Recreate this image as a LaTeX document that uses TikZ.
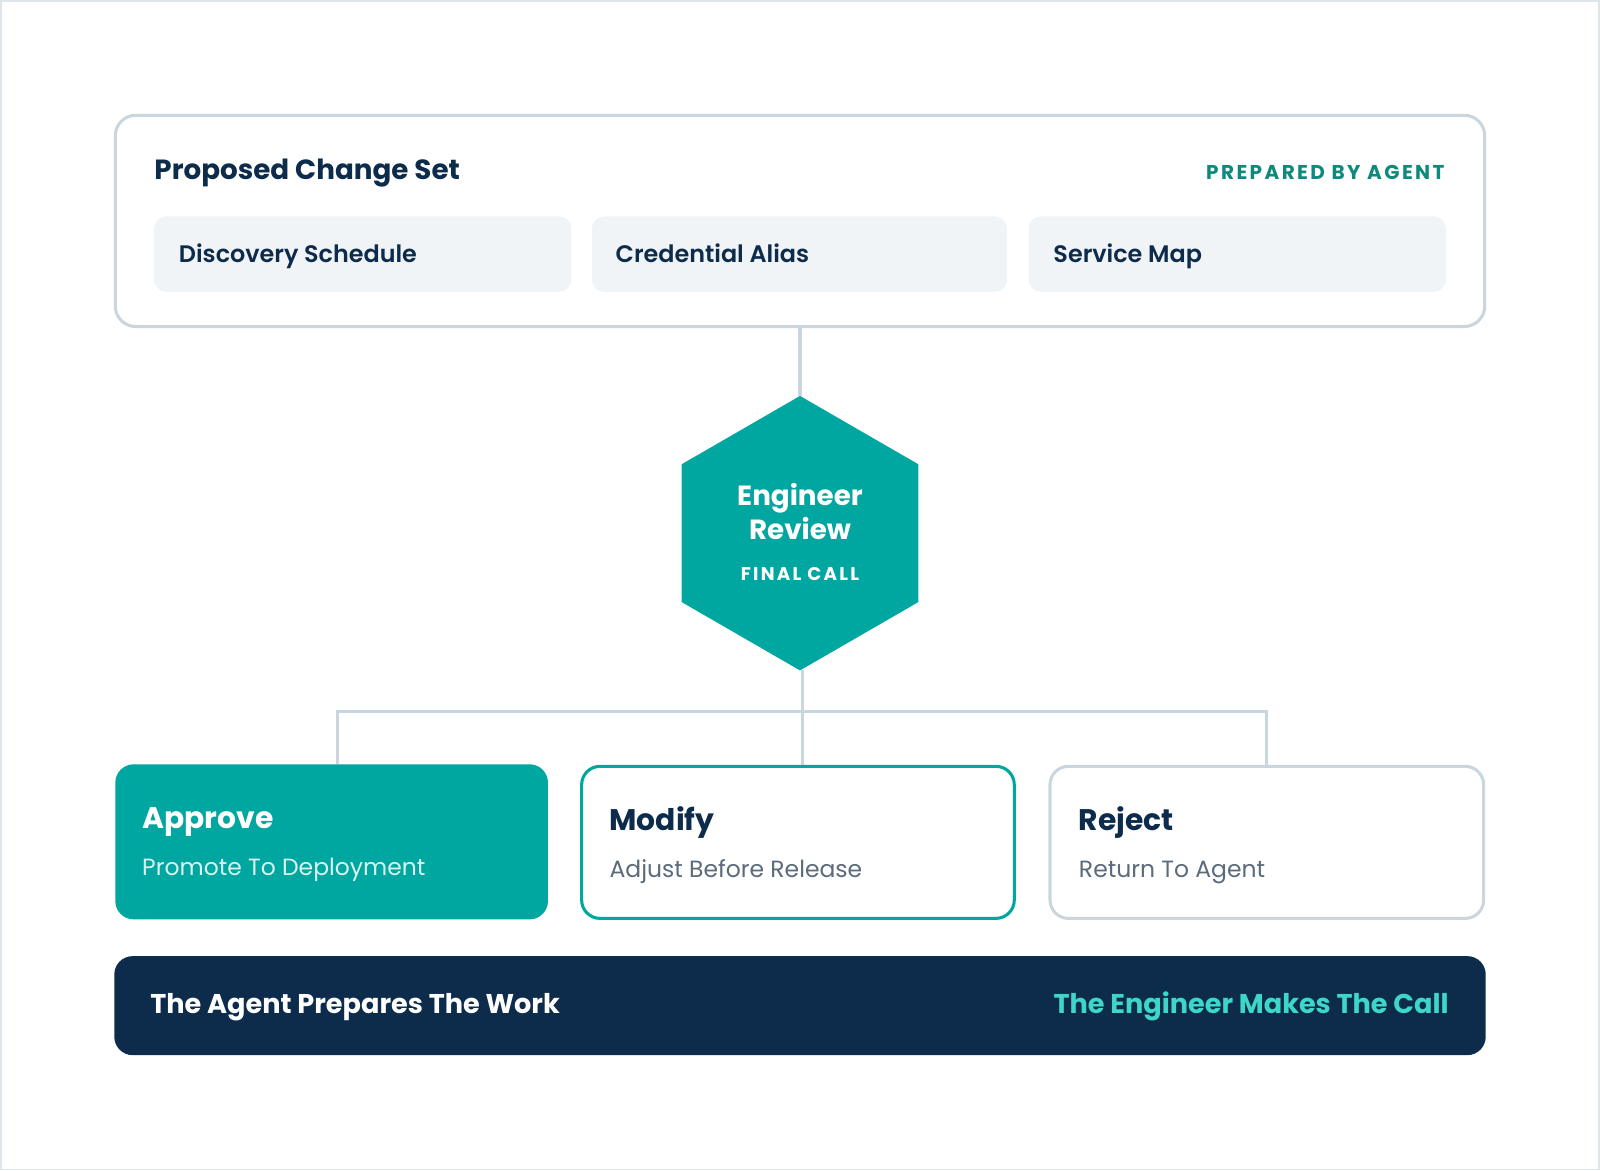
\documentclass[tikz,border=0pt]{standalone}
\usepackage{fontspec}
\setmainfont{Poppins}
\newfontfamily\pbold{Poppins}[UprightFont={* Bold}]
\newfontfamily\psemi{Poppins}[UprightFont={* SemiBold}]
\newfontfamily\pspaced{Poppins}[UprightFont={* Bold},LetterSpace=12]
\definecolor{navy}{HTML}{0D2B4B}
\definecolor{teal}{HTML}{00A6A0}
\definecolor{tealdk}{HTML}{0E8A7D}
\definecolor{tealtx}{HTML}{3DD6C8}
\definecolor{edge}{HTML}{C9D6DE}
\definecolor{chip}{HTML}{F0F4F7}
\definecolor{sub}{HTML}{5B6B7B}
\definecolor{subl}{HTML}{D9F4F1}
\begin{document}
\begin{tikzpicture}[x=0.5pt,y=-0.5pt,
  lbl/.style={anchor=mid west,inner sep=0,yshift=-1.6pt},
  lble/.style={anchor=mid east,inner sep=0,yshift=-1.6pt},
  lblc/.style={anchor=mid,inner sep=0,yshift=-1.6pt},
  chipbox/.style={fill=chip,draw=none,rounded corners=6pt},
  conn/.style={draw=edge,line width=1.5pt}]
\useasboundingbox (0,0) rectangle (1568,1147);
\draw[draw=edge!60,line width=0.8pt] (1,1) rectangle (1567,1146);
% top box
\draw[draw=edge,line width=1.5pt,rounded corners=10pt] (113,113) rectangle (1455,320);
\node[lbl,text=navy] (title) at (151,167) {\fontsize{13.6}{14}\pbold Proposed Change Set};
\node[lble,text=tealdk] (prep) at (1416,167) {\fontsize{9.8}{10}\pspaced PREPARED BY AGENT};
\fill[chipbox] (151,212) rectangle (560,286);
\fill[chipbox] (580,212) rectangle (987,286);
\fill[chipbox] (1008,212) rectangle (1417,286);
\node[lbl,text=navy] (c1) at (175,249) {\fontsize{11.7}{12}\psemi Discovery Schedule};
\node[lbl,text=navy] (c2) at (603,249) {\fontsize{11.7}{12}\psemi Credential Alias};
\node[lbl,text=navy] (c3) at (1032,249) {\fontsize{11.7}{12}\psemi Service Map};
\coordinate (topb) at (784,320);
% hexagon
\fill[teal] (784,388) -- (900,455) -- (900,590) -- (784,657) -- (668,590) -- (668,455) -- cycle;
\coordinate (hexT) at (784,388);
\coordinate (hexB) at (786,657);
\node[lblc,text=white] (e1) at (784,487) {\fontsize{13.6}{14}\pbold Engineer};
\node[lblc,text=white] (e2) at (784,520) {\fontsize{13.6}{14}\pbold Review};
\node[lblc,text=white] (e3) at (784,560) {\fontsize{9}{9}\pspaced FINAL CALL};
\draw[conn] (topb) -- (hexT);
% branches
\coordinate (j) at (786,697);
\coordinate (aT) at (331,749);
\coordinate (mT) at (786,750);
\coordinate (rT) at (1241,750);
\draw[conn] (hexB) -- (mT);
\draw[conn] (aT) |- (j) -| (rT);
% boxes
\fill[teal,rounded corners=9pt] (113,749) rectangle (537,901);
\node[lbl,text=white] (a1) at (139,803) {\fontsize{14.6}{15}\pbold Approve};
\node[lbl,text=subl] (a2) at (139,849) {\fontsize{11.5}{12}\selectfont Promote To Deployment};
\draw[fill=white,draw=teal,line width=1.5pt,rounded corners=9pt] (570,751) rectangle (994,900);
\node[lbl,text=navy] (m1) at (597,805) {\fontsize{14.6}{15}\pbold Modify};
\node[lbl,text=sub] (m2) at (597,851) {\fontsize{11.5}{12}\selectfont Adjust Before Release};
\draw[fill=white,draw=edge,line width=1.5pt,rounded corners=9pt] (1029,751) rectangle (1454,900);
\node[lbl,text=navy] (r1) at (1057,805) {\fontsize{14.6}{15}\pbold Reject};
\node[lbl,text=sub] (r2) at (1057,851) {\fontsize{11.5}{12}\selectfont Return To Agent};
% bottom bar
\fill[navy,rounded corners=9pt] (112,937) rectangle (1456,1034);
\node[lbl,text=white] (b1) at (147,985) {\fontsize{13.3}{14}\pbold The Agent Prepares The Work};
\node[lble,text=tealtx] (b2) at (1420,985) {\fontsize{13.3}{14}\pbold The Engineer Makes The Call};
\end{tikzpicture}
\end{document}
